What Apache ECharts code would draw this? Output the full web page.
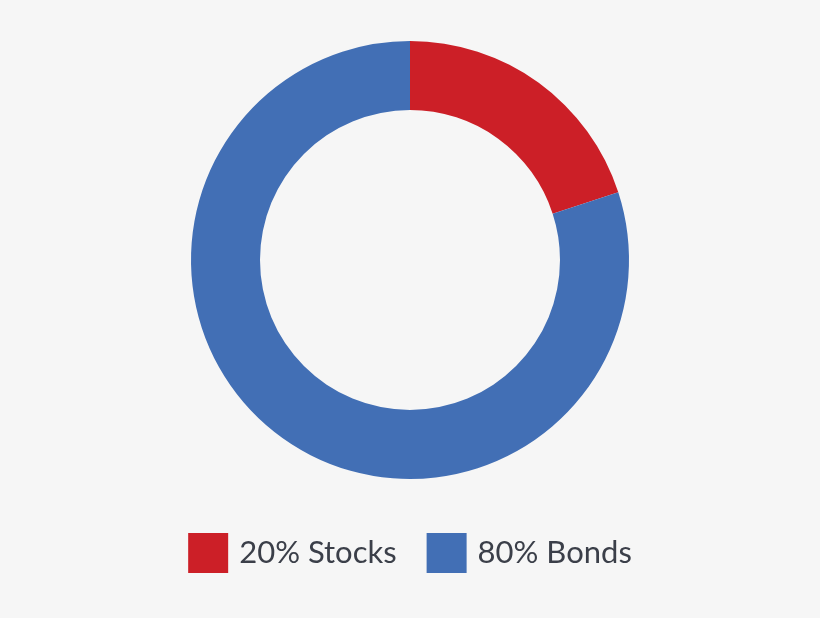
<!DOCTYPE html>
<html><head><meta charset="utf-8">
<script src="https://cdn.jsdelivr.net/npm/echarts@6/dist/echarts.min.js"></script>
<style>html,body{margin:0;padding:0;background:#f6f6f6}#c{width:820px;height:618px}</style>
</head><body><div id="c"></div>
<script>
const categories = ["Stocks", "Bonds"];
const values = [20, 80];
const colors = ["#cc1f27", "#426fb5"];
const chart = echarts.init(document.getElementById('c'));
chart.setOption({
  backgroundColor: '#f6f6f6',
  animation: false,
  color: colors,
  legend: {
    bottom: 40, left: 'center', itemWidth: 40, itemHeight: 40, itemGap: 30,
    icon: 'rect',
    formatter: n => values[categories.indexOf(n)] + '% ' + n,
    textStyle: {fontSize: 31, color: '#3b3f49', fontFamily: 'Lato', padding: [0,0,0,6]}
  },
  series: [{
    type: 'pie', center: [410, 260], radius: [150, 219],
    startAngle: 90, clockwise: true,
    label: {show: false}, labelLine: {show: false},
    emphasis: {disabled: true},
    data: categories.map((c, i) => ({name: c, value: values[i]}))
  }]
});
</script></body></html>
